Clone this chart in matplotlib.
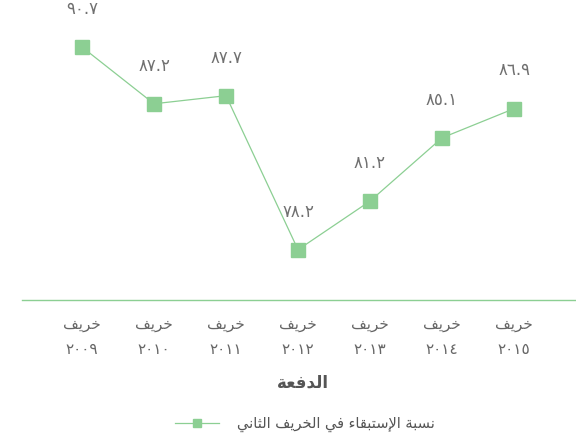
import matplotlib
matplotlib.use("Agg")
import matplotlib.pyplot as plt

# ---------------- data ----------------
seasons = ["خريف"] * 7
years = ["٢٠٠٩", "٢٠١٠", "٢٠١١", "٢٠١٢", "٢٠١٣", "٢٠١٤", "٢٠١٥"]
values = [90.7, 87.2, 87.7, 78.2, 81.2, 85.1, 86.9]
value_labels = ["٩٠.٧", "٨٧.٢", "٨٧.٧", "٧٨.٢", "٨١.٢", "٨٥.١", "٨٦.٩"]
series_name = "نسبة الإستبقاء في الخريف الثاني"
x_title = "الدفعة"

# ---------------- Arabic shaping (presentation forms + visual order) ----------------
FORMS = {  # isolated, final, initial, medial
    'ء': (0xFE80, None, None, None),
    'ا': (0xFE8D, 0xFE8E, None, None),
    'إ': (0xFE87, 0xFE88, None, None),
    'ب': (0xFE8F, 0xFE90, 0xFE91, 0xFE92),
    'ة': (0xFE93, 0xFE94, None, None),
    'ت': (0xFE95, 0xFE96, 0xFE97, 0xFE98),
    'ث': (0xFE99, 0xFE9A, 0xFE9B, 0xFE9C),
    'خ': (0xFEA5, 0xFEA6, 0xFEA7, 0xFEA8),
    'د': (0xFEA9, 0xFEAA, None, None),
    'ر': (0xFEAD, 0xFEAE, None, None),
    'س': (0xFEB1, 0xFEB2, 0xFEB3, 0xFEB4),
    'ع': (0xFEC9, 0xFECA, 0xFECB, 0xFECC),
    'ف': (0xFED1, 0xFED2, 0xFED3, 0xFED4),
    'ق': (0xFED5, 0xFED6, 0xFED7, 0xFED8),
    'ل': (0xFEDD, 0xFEDE, 0xFEDF, 0xFEE0),
    'ن': (0xFEE5, 0xFEE6, 0xFEE7, 0xFEE8),
    'ي': (0xFEF1, 0xFEF2, 0xFEF3, 0xFEF4),
}
LAM_ALEF = {'ا': (0xFEFB, 0xFEFC), 'إ': (0xFEF9, 0xFEFA)}


def dual(c):
    return c in FORMS and FORMS[c][2] is not None


def joins_right(c):
    return c in FORMS and FORMS[c][1] is not None


def shape(text):
    out = []
    i = 0
    n = len(text)
    while i < n:
        c = text[i]
        if c not in FORMS:
            out.append(c)
            i += 1
            continue
        prev = text[i - 1] if i > 0 else ''
        jp = dual(prev) and joins_right(c)
        if c == 'ل' and i + 1 < n and text[i + 1] in LAM_ALEF:
            iso, fin = LAM_ALEF[text[i + 1]]
            out.append(chr(fin if jp else iso))
            i += 2
            continue
        nxt = text[i + 1] if i + 1 < n else ''
        jn = dual(c) and joins_right(nxt)
        iso, fin, ini, med = FORMS[c]
        if jp and jn:
            code = med
        elif jp:
            code = fin
        elif jn:
            code = ini
        else:
            code = iso
        out.append(chr(code))
        i += 1
    return ''.join(reversed(out))


# ---------------- figure ----------------
plt.rcParams['font.family'] = ['DejaVu Sans']
W, H = 576, 436
fig = plt.figure(figsize=(W / 100, H / 100), dpi=100)
ax = fig.add_axes([22 / W, (H - 300) / H, 1 - 22 / W, 300 / H])

green = '#8ccf93'
xs = list(range(len(values)))
ax.plot(xs, values, color=green, lw=0.9, marker='s', markersize=9.5,
        markerfacecolor=green, markeredgecolor=green, label=shape(series_name))

for x, v, lab in zip(xs, values, value_labels):
    ax.annotate(lab, (x, v), xytext=(0, 21), textcoords='offset points',
                ha='center', va='bottom', fontsize=12, color='#707070')

ax.set_xlim(-0.833, 6.86)
ax.set_ylim(75.1, 93.6)

for s in ['top', 'right', 'left']:
    ax.spines[s].set_visible(False)
ax.spines['bottom'].set_color('#8ccf93')
ax.spines['bottom'].set_linewidth(1.0)
ax.set_yticks([])
ax.set_xticks(xs)
ax.set_xticklabels([shape(s) + "\n" + y for s, y in zip(seasons, years)],
                   fontsize=11, color='#666666', linespacing=1.9)
ax.tick_params(axis='x', length=0, pad=12)
ax.patch.set_alpha(0)

fig.text(303 / W, 1 - 383 / H, shape(x_title), ha='center', va='center',
         fontsize=12, fontweight='bold', color='#555555')

handles, labels = ax.get_legend_handles_labels()
leg = fig.legend(handles, labels, loc='center', bbox_to_anchor=(305 / W, 1 - 424 / H),
                 frameon=False, fontsize=10.5, handlelength=3.0, markerscale=0.55,
                 handletextpad=1.2)
for t in leg.get_texts():
    t.set_color('#555555')

fig.savefig('out.png', dpi=100)
